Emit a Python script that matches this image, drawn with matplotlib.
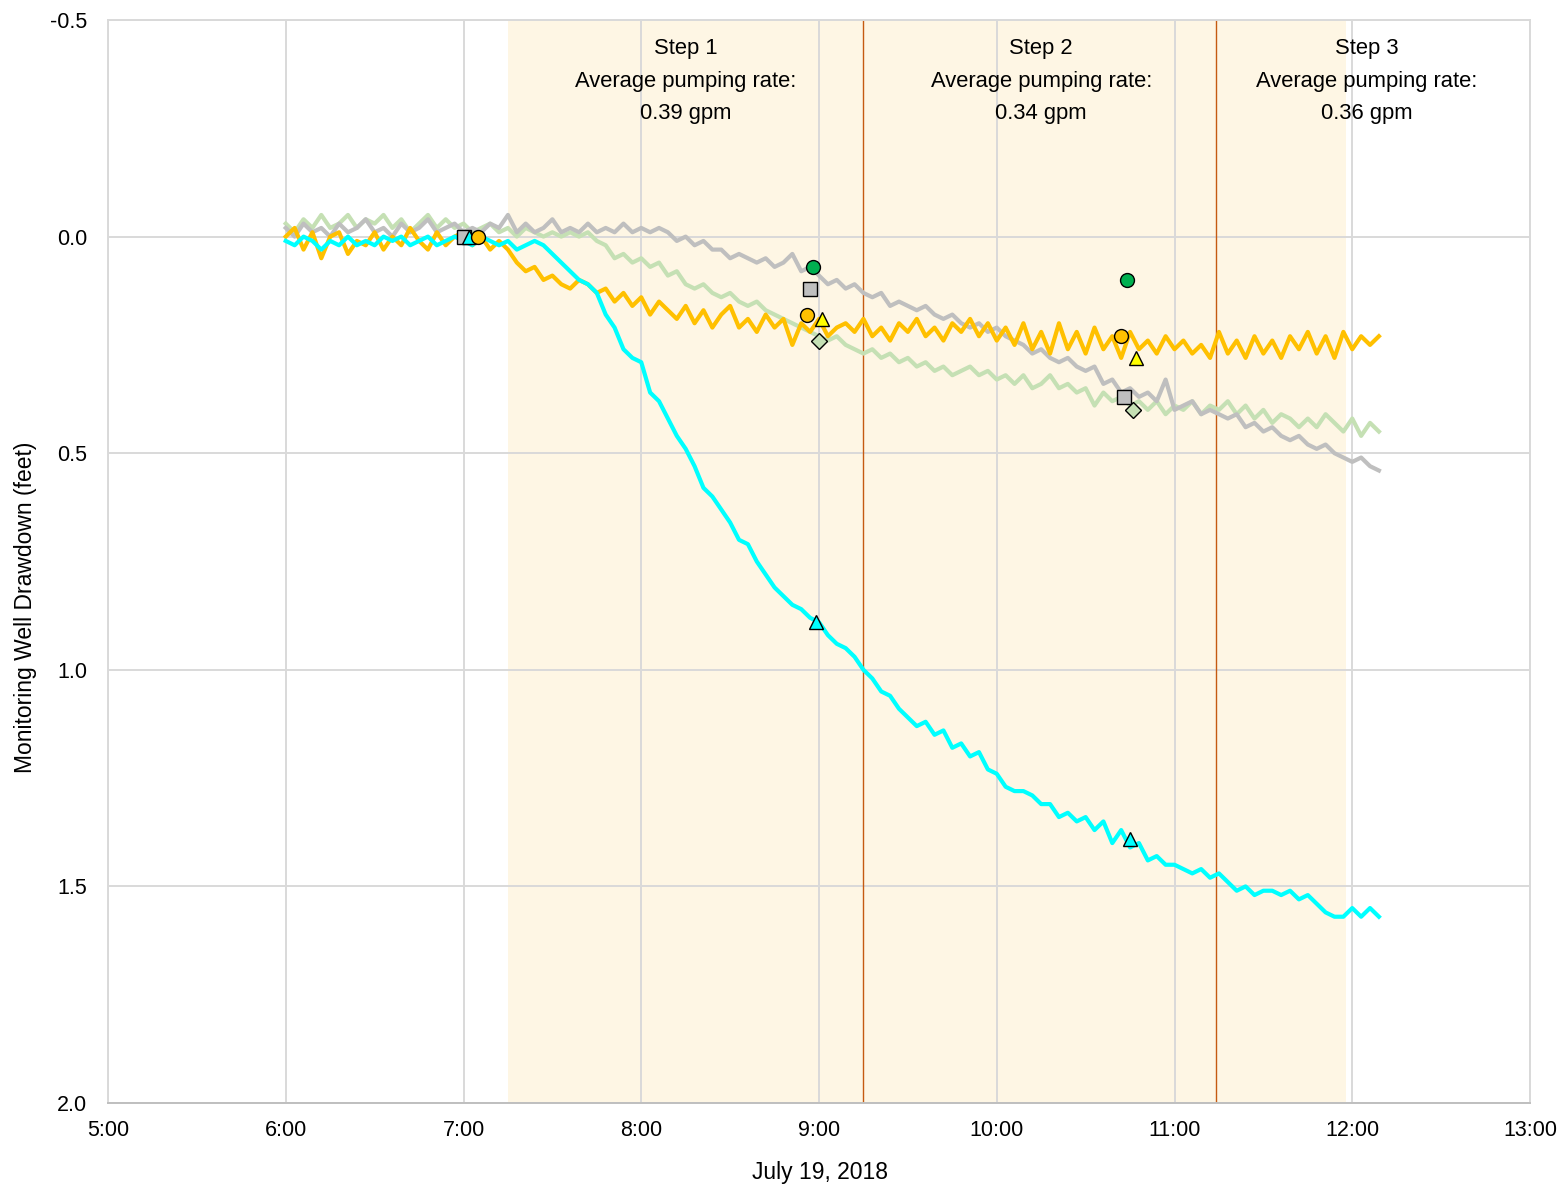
import numpy as np
import matplotlib
matplotlib.use("Agg")
from matplotlib import pyplot as plt

plt.rcParams['font.family'] = ['Liberation Sans', 'DejaVu Sans']

# readings every 3 minutes starting 6:00 (drawdown, feet)
start_time = "6:00"
step_min = 3

cyan_vals = [
    0.01, 0.02, 0.00, 0.01, 0.03, 0.01, 0.02, 0.00, 0.02, 0.01,   # 6:00
    0.02, 0.00, 0.01, 0.00, 0.02, 0.01, 0.00, 0.02, 0.01, 0.00,   # 6:30
    0.01, 0.02, 0.00, 0.01, 0.02, 0.01, 0.03, 0.02, 0.01, 0.02,   # 7:00
    0.04, 0.06, 0.08, 0.10, 0.11, 0.13, 0.18, 0.21, 0.26, 0.28,   # 7:30
    0.29, 0.36, 0.38, 0.42, 0.46, 0.49, 0.53, 0.58, 0.60, 0.63,   # 8:00
    0.66, 0.70, 0.71, 0.75, 0.78, 0.81, 0.83, 0.85, 0.86, 0.88,   # 8:30
    0.89, 0.92, 0.94, 0.95, 0.97, 1.00, 1.02, 1.05, 1.06, 1.09,   # 9:00
    1.11, 1.13, 1.12, 1.15, 1.14, 1.18, 1.17, 1.20, 1.19, 1.23,   # 9:30
    1.24, 1.27, 1.28, 1.28, 1.29, 1.31, 1.31, 1.34, 1.33, 1.35,   # 10:00
    1.34, 1.37, 1.35, 1.40, 1.37, 1.41, 1.40, 1.44, 1.43, 1.45,   # 10:30
    1.45, 1.46, 1.47, 1.46, 1.48, 1.47, 1.49, 1.51, 1.50, 1.52,   # 11:00
    1.51, 1.51, 1.52, 1.51, 1.53, 1.52, 1.54, 1.56, 1.57, 1.57,   # 11:30
    1.55, 1.57, 1.55, 1.57,                                       # 12:00
]

orange_vals = [
    0.00, -0.02, 0.03, -0.01, 0.05, 0.00, -0.01, 0.04, 0.01, 0.02,
    -0.01, 0.03, 0.00, 0.02, -0.02, 0.01, 0.03, -0.01, 0.02, 0.00,
    -0.01, 0.02, 0.00, 0.03, 0.01, 0.03, 0.06, 0.08, 0.07, 0.10,
    0.09, 0.11, 0.12, 0.10, 0.11, 0.13, 0.12, 0.15, 0.13, 0.16,
    0.14, 0.18, 0.15, 0.17, 0.19, 0.16, 0.20, 0.17, 0.21, 0.18,
    0.16, 0.21, 0.19, 0.22, 0.18, 0.21, 0.19, 0.25, 0.20, 0.22,
    0.19, 0.23, 0.21, 0.20, 0.22, 0.19, 0.23, 0.21, 0.24, 0.20,
    0.22, 0.19, 0.23, 0.21, 0.24, 0.20, 0.22, 0.19, 0.23, 0.20,
    0.24, 0.21, 0.25, 0.20, 0.26, 0.22, 0.27, 0.20, 0.26, 0.22,
    0.27, 0.21, 0.26, 0.23, 0.28, 0.22, 0.26, 0.24, 0.27, 0.23,
    0.26, 0.24, 0.27, 0.25, 0.28, 0.22, 0.27, 0.24, 0.28, 0.23,
    0.27, 0.24, 0.28, 0.23, 0.26, 0.22, 0.27, 0.23, 0.28, 0.22,
    0.26, 0.23, 0.25, 0.23,
]

gray_vals = [
    -0.02, 0.00, -0.03, -0.01, -0.02, 0.00, -0.03, -0.01, -0.02, -0.04,
    -0.01, -0.02, 0.00, -0.03, -0.01, -0.02, -0.04, -0.01, -0.02, -0.03,
    -0.01, -0.02, -0.01, -0.03, -0.02, -0.05, -0.01, -0.03, -0.01, -0.02,
    -0.04, -0.01, -0.02, -0.01, -0.03, -0.01, -0.02, -0.01, -0.03, -0.01,
    -0.02, -0.01, -0.02, -0.01, 0.01, 0.00, 0.02, 0.01, 0.03, 0.03,
    0.05, 0.04, 0.05, 0.06, 0.05, 0.07, 0.06, 0.04, 0.08, 0.07,
    0.09, 0.11, 0.10, 0.12, 0.11, 0.13, 0.14, 0.13, 0.16, 0.15,
    0.16, 0.17, 0.16, 0.18, 0.19, 0.18, 0.20, 0.21, 0.20, 0.22,
    0.21, 0.23, 0.24, 0.25, 0.27, 0.26, 0.28, 0.29, 0.28, 0.30,
    0.31, 0.30, 0.34, 0.33, 0.36, 0.35, 0.37, 0.36, 0.38, 0.33,
    0.40, 0.39, 0.38, 0.41, 0.40, 0.41, 0.42, 0.41, 0.44, 0.43,
    0.45, 0.44, 0.46, 0.47, 0.46, 0.48, 0.49, 0.48, 0.50, 0.51,
    0.52, 0.51, 0.53, 0.54,
]

green_vals = [
    -0.03, -0.01, -0.04, -0.02, -0.05, -0.02, -0.03, -0.05, -0.02, -0.04,
    -0.03, -0.05, -0.02, -0.04, -0.01, -0.03, -0.05, -0.02, -0.04, -0.02,
    -0.03, -0.01, -0.02, -0.03, -0.01, -0.02, 0.00, -0.02, -0.01, 0.00,
    -0.01, 0.00, -0.01, 0.00, -0.01, 0.01, 0.02, 0.05, 0.04, 0.06,
    0.05, 0.07, 0.06, 0.09, 0.08, 0.11, 0.12, 0.11, 0.13, 0.14,
    0.13, 0.15, 0.16, 0.15, 0.17, 0.18, 0.19, 0.20, 0.21, 0.22,
    0.23, 0.24, 0.23, 0.25, 0.26, 0.27, 0.26, 0.28, 0.27, 0.29,
    0.28, 0.30, 0.29, 0.31, 0.30, 0.32, 0.31, 0.30, 0.32, 0.31,
    0.33, 0.32, 0.34, 0.32, 0.35, 0.34, 0.32, 0.35, 0.34, 0.36,
    0.35, 0.39, 0.36, 0.38, 0.37, 0.39, 0.38, 0.40, 0.38, 0.41,
    0.39, 0.40, 0.38, 0.41, 0.39, 0.40, 0.38, 0.41, 0.39, 0.42,
    0.40, 0.43, 0.41, 0.42, 0.44, 0.42, 0.44, 0.41, 0.43, 0.45,
    0.42, 0.46, 0.43, 0.45,
]

# manual measurements
meas_times = ["7:00", "7:02", "7:05",
              "8:58", "8:57", "8:56", "9:01", "9:00", "8:59",
              "10:44", "10:43", "10:42", "10:47", "10:46", "10:45"]
meas_vals = [0.0, 0.0, 0.0,
             0.07, 0.12, 0.18, 0.19, 0.24, 0.89,
             0.10, 0.37, 0.23, 0.28, 0.40, 1.39]
meas_kind = ["gray", "cyan", "orange",
             "green", "gray", "orange", "yellow", "ltgreen", "cyan",
             "green", "gray", "orange", "yellow", "ltgreen", "cyan"]

step_names = ["Step 1", "Step 2", "Step 3"]
step_rates = ["0.39", "0.34", "0.36"]
step_centers = ["8:15", "10:15", "12:05"]
step_changes = ["9:15", "11:14"]
pumping_period = ["7:15", "11:58"]

hour_ticks = [5, 6, 7, 8, 9, 10, 11, 12, 13]
tick_labels = ["%d:00" % h for h in hour_ticks]


def hm(s):
    h, m = s.split(":")
    return int(h) + int(m) / 60.0


t = hm(start_time) + np.arange(len(cyan_vals)) * step_min / 60.0

fig = plt.figure(figsize=(15.64, 11.86), dpi=100)
ax = fig.add_axes([108 / 1564, 1 - 1103 / 1186, 1422 / 1564, 1083 / 1186])

ax.axvspan(hm(pumping_period[0]), hm(pumping_period[1]), color="#FEF6E4", lw=0, zorder=0.2)
for s in step_changes:
    ax.axvline(hm(s), color="#C55A11", lw=1.0, zorder=1)

ax.plot(t, green_vals, color="#C5E0B4", lw=3.0, zorder=2)
ax.plot(t, gray_vals, color="#BFBFBF", lw=3.0, zorder=2.1)
ax.plot(t, orange_vals, color="#FFC000", lw=3.0, zorder=2.2)
ax.plot(t, cyan_vals, color="#00FFFF", lw=3.0, zorder=2.3)

styles = {
    "gray": dict(marker="s", mfc="#BFBFBF", ms=9.5),
    "cyan": dict(marker="^", mfc="#00FFFF", ms=9.5),
    "orange": dict(marker="o", mfc="#FFC000", ms=10),
    "green": dict(marker="o", mfc="#00B050", ms=10),
    "yellow": dict(marker="^", mfc="#FFFF00", ms=9.5),
    "ltgreen": dict(marker="D", mfc="#C5E0B4", ms=8.5),
}
for tm, v, k in zip(meas_times, meas_vals, meas_kind):
    ax.plot(hm(tm), v, ls="none", mec="black", mew=1.0, zorder=3, **styles[k])

for name, rate, c in zip(step_names, step_rates, step_centers):
    ax.text(hm(c), -0.458, "%s\nAverage pumping rate:\n%s gpm" % (name, rate),
            ha="center", va="top", fontsize=15.8, linespacing=1.72, zorder=4)

ax.set_xlim(5, 13)
ax.set_ylim(2.0, -0.5)
ax.set_xticks(hour_ticks)
ax.set_xticklabels(tick_labels)
ax.set_yticks([-0.5, 0.0, 0.5, 1.0, 1.5, 2.0])
ax.set_yticklabels(["-0.5", "0.0", "0.5", "1.0", "1.5", "2.0"])
ax.tick_params(length=0, labelsize=15.5)
ax.tick_params(axis="y", pad=15)
ax.tick_params(axis="x", pad=12)
ax.grid(True, color="#D9D9D9", lw=1.4)
ax.set_axisbelow(True)
for sp in ax.spines.values():
    sp.set_color("#D9D9D9")
    sp.set_linewidth(1.4)
ax.spines["bottom"].set_color("#BFBFBF")

ax.set_xlabel("July 19, 2018", fontsize=16.5)
ax.xaxis.set_label_coords(0.501, -0.054)
ax.set_ylabel("Monitoring Well Drawdown (feet)", fontsize=16.5)
ax.yaxis.set_label_coords(-0.05, 0.458)

fig.savefig("out.png", dpi=100)
